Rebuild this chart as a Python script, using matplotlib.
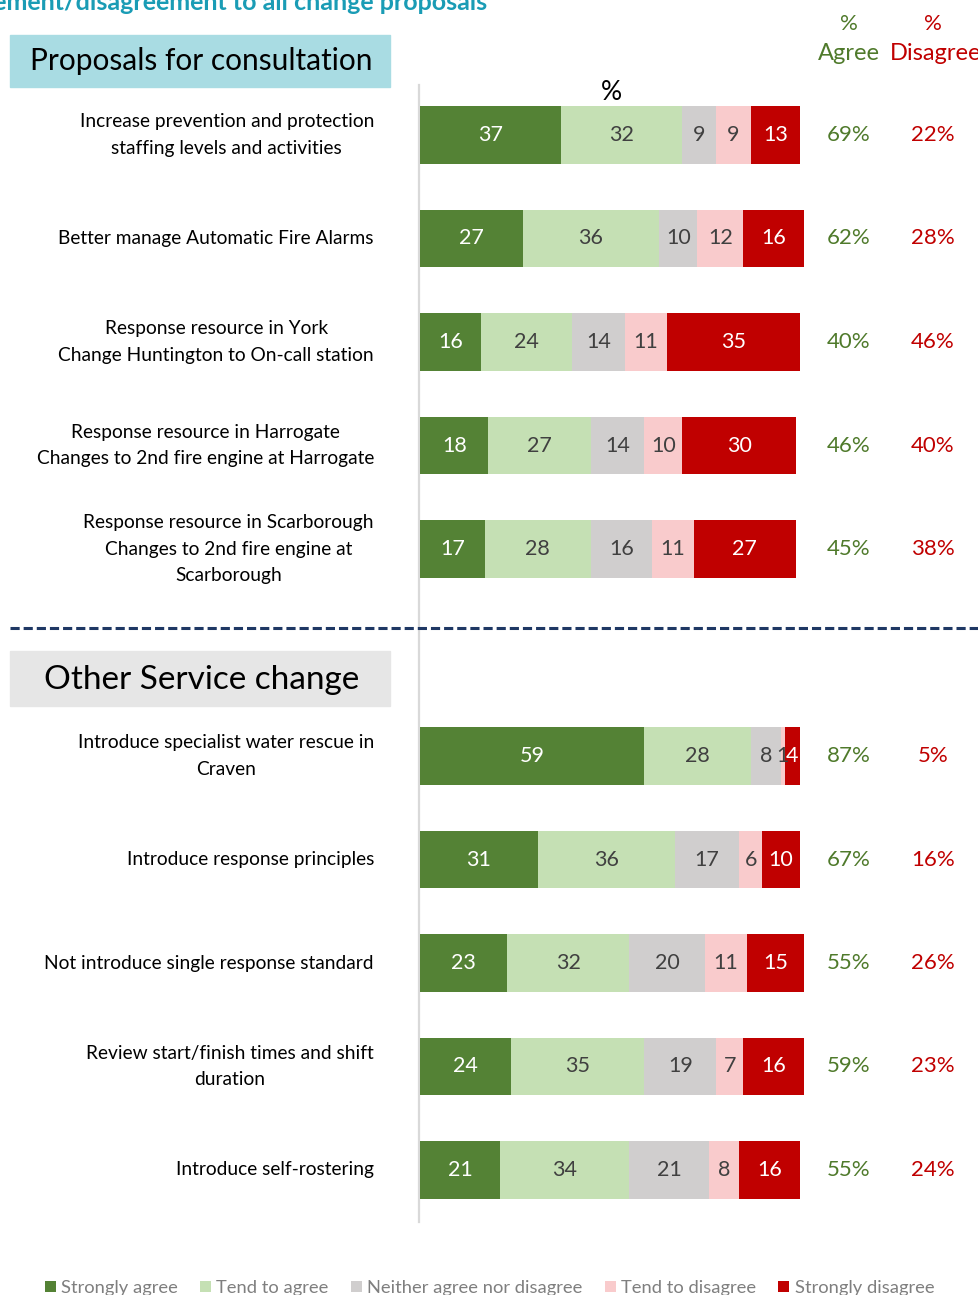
"""Agreement / disagreement with the change proposals (stacked 100% bars)."""

import matplotlib.pyplot as plt
import numpy as np

plt.rcParams["font.family"] = ["Lato", "DejaVu Sans"]

CATEGORIES = [
    "Increase prevention and protection\nstaffing levels and activities",
    "Better manage Automatic Fire Alarms",
    "Response resource in York\nChange Huntington to On-call station",
    "Response resource in Harrogate\nChanges to 2nd fire engine at Harrogate",
    "Response resource in Scarborough\nChanges to 2nd fire engine at\nScarborough",
    "Introduce specialist water rescue in\nCraven",
    "Introduce response principles",
    "Not introduce single response standard",
    "Review start/finish times and shift\nduration",
    "Introduce self-rostering",
]
ROW_POS = [0, 1, 2, 3, 4, 6, 7, 8, 9, 10]

SERIES = ["Strongly agree", "Tend to agree", "Neither agree nor disagree",
          "Tend to disagree", "Strongly disagree"]
strongly_agree = [37, 27, 16, 18, 17, 59, 31, 23, 24, 21]
tend_agree = [32, 36, 24, 27, 28, 28, 36, 32, 35, 34]
neither = [9, 10, 14, 14, 16, 8, 17, 20, 19, 21]
tend_disagree = [9, 12, 11, 10, 11, 1, 6, 11, 7, 8]
strongly_disagree = [13, 16, 35, 30, 27, 4, 10, 15, 16, 16]
pct_agree = [69, 62, 40, 46, 45, 87, 67, 55, 59, 55]
pct_disagree = [22, 28, 46, 40, 38, 5, 16, 26, 23, 24]

COLORS = ["#548235", "#C5E0B4", "#D0CECE", "#F9CBCC", "#C00000"]
TEXT_COLORS = ["white", "#404040", "#404040", "#404040", "white"]
GREEN = "#4F7A2B"
RED = "#C00000"

W, H = 979, 1295
X0, XSCALE = 420, 3.8          # pixel of value 0, pixels per percent
Y0, YSCALE = 135, 103.5        # pixel of row 0, pixels per row


def px(x):
    return (x - X0) / XSCALE


def py(y):
    return (y - Y0) / YSCALE


fig = plt.figure(figsize=(W / 100, H / 100), dpi=100)
ax = fig.add_axes([0, 0, 1, 1])
ax.set_xlim(px(0), px(W))
ax.set_ylim(py(H), py(0))
ax.axis("off")

data = np.array([strongly_agree, tend_agree, neither, tend_disagree, strongly_disagree])
left = np.zeros(len(ROW_POS))
handles = []
for i, name in enumerate(SERIES):
    bars = ax.barh(ROW_POS, data[i], left=left, height=0.56, color=COLORS[i],
                   label=name, zorder=3)
    handles.append(bars)
    for y, l, v in zip(ROW_POS, left, data[i]):
        ax.text(l + v / 2, y, str(v), ha="center", va="center", fontsize=15.5,
                color=TEXT_COLORS[i], zorder=4)
    left += data[i]

# category labels
for y, lab in zip(ROW_POS, CATEGORIES):
    ax.text(px(374), y, lab, ha="right", va="center", multialignment="center",
            fontsize=13.8, color="black", linespacing=1.65)

# agree / disagree percentages
for y, a, d in zip(ROW_POS, pct_agree, pct_disagree):
    ax.text(px(849), y, f"{a}%", ha="center", va="center", fontsize=16, color=GREEN)
    ax.text(px(933), y, f"{d}%", ha="center", va="center", fontsize=16, color=RED)

ax.text(px(849), py(24), "%", ha="center", va="center", fontsize=16, color=GREEN)
ax.text(px(933), py(24), "%", ha="center", va="center", fontsize=16, color=RED)
ax.text(px(818), py(54), "Agree", ha="left", va="center", fontsize=17, color=GREEN)
ax.text(px(890), py(54), "Disagree", ha="left", va="center", fontsize=17, color=RED)
ax.text(px(611), py(93), "%", ha="center", va="center", fontsize=19, color="black")

# title (cut at the top of the slide)
ax.text(px(487), py(10), "Level of agreement/disagreement to all change proposals",
        ha="right", va="baseline", fontsize=18, fontweight="bold", color="#1A9CB5")

# section headers
ax.add_patch(plt.Rectangle((px(10), py(35)), px(390) - px(10), py(87) - py(35),
                           color="#A9DCE3", zorder=1))
ax.text(px(201), py(61), "Proposals for consultation", ha="center", va="center",
        fontsize=21.5, color="black")
ax.add_patch(plt.Rectangle((px(10), py(651)), px(390) - px(10), py(706) - py(651),
                           color="#E6E6E6", zorder=1))
ax.text(px(202), py(680), "Other Service change", ha="center", va="center",
        fontsize=24, color="black")

# axis line and divider
ax.plot([px(419), px(419)], [py(85), py(1222)], color="#D9D9D9", lw=1.6, zorder=2)
ax.plot([px(10), px(W)], [py(628), py(628)], color="#1F3864", lw=2.2,
        linestyle=(0, (3, 1.3)), zorder=2)

fig.legend(handles=handles, loc="center", bbox_to_anchor=(0.5, 1 - 1288 / H),
           ncol=5, frameon=False, fontsize=13.2, handlelength=0.6, handleheight=0.6,
           handletextpad=0.3, columnspacing=1.2, labelcolor="#7F7F7F")

fig.savefig("out.png", dpi=100)
